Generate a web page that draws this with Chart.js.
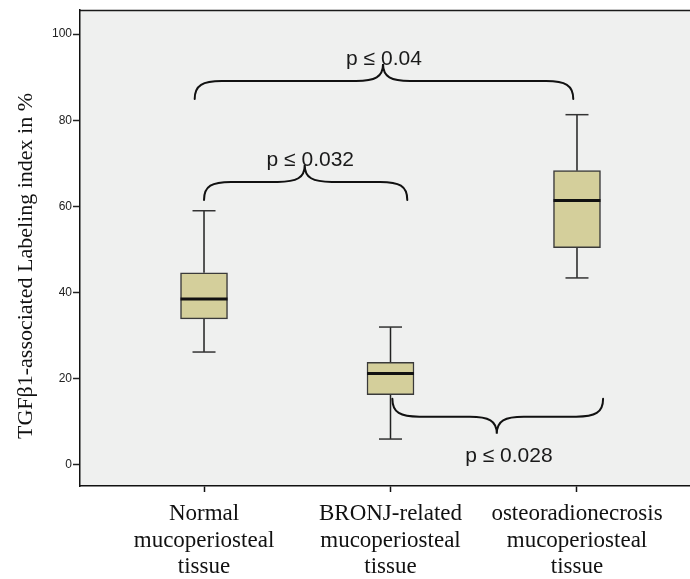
<!DOCTYPE html>
<html><head><meta charset="utf-8">
<script src="https://cdn.jsdelivr.net/npm/chart.js@4"></script>
<style>html,body{margin:0;padding:0;background:#fff;overflow:hidden;}</style>
</head><body>
<canvas id="c" width="690" height="579"></canvas>
<script>
// ---- data ----
const categories = [
  ['Normal', 'mucoperiosteal', 'tissue'],
  ['BRONJ-related', 'mucoperiosteal', 'tissue'],
  ['osteoradionecrosis', 'mucoperiosteal', 'tissue']
];
const xPositions = [1, 2, 3];
const whiskerLow  = [26.2, 6.0, 43.4];
const q1          = [33.9, 16.3, 50.4];
const median      = [38.5, 21.2, 61.4];
const q3          = [44.6, 23.8, 68.3];
const whiskerHigh = [59.0, 32.0, 81.3];
const yTicks = [0, 20, 40, 60, 80, 100];
const yTitle = 'TGFβ1-associated Labeling index in %';
// significance braces (x in category units, level in value units)
const braceLabels = ['p ≤ 0.04', 'p ≤ 0.032', 'p ≤ 0.028'];
const braceStart  = [0.95, 1.0, 2.01];
const braceEnd    = [2.98, 2.09, 3.14];
const braceTip    = [1.96, 1.54, 2.57];
const braceLevel  = [89.1, 65.7, 11.2];
const braceDir    = [1, 1, -1];
const braceLabelX = [1.965, 1.57, 2.635];

// ---- datasets built from arrays ----
const boxData = xPositions.map((x, i) => ({x: x, y: [q1[i], q3[i]]}));
const medianData = xPositions.map((x, i) => ({x: x, y: median[i]}));
const capData = [];
xPositions.forEach((x, i) => { capData.push({x: x, y: whiskerLow[i]}); capData.push({x: x, y: whiskerHigh[i]}); });
const whiskerData = [];
xPositions.forEach((x, i) => {
  whiskerData.push({x: x, y: whiskerLow[i]}, {x: x, y: q1[i]}, {x: x, y: null});
  whiskerData.push({x: x, y: q3[i]}, {x: x, y: whiskerHigh[i]}, {x: x, y: null});
});

const bgPlugin = {
  id: 'bg',
  beforeDraw(chart) {
    const {ctx, chartArea: a} = chart;
    ctx.save();
    ctx.fillStyle = '#eff0ef';
    ctx.fillRect(a.left, a.top, a.right - a.left, a.bottom - a.top);
    ctx.strokeStyle = '#1a1a1a';
    ctx.lineWidth = 1.5;
    ctx.beginPath();
    ctx.moveTo(a.left, a.top + 0.5);
    ctx.lineTo(a.right, a.top + 0.5);
    ctx.stroke();
    ctx.restore();
  }
};

const annotPlugin = {
  id: 'annot',
  afterDatasetsDraw(chart) {
    const {ctx} = chart;
    const xs = chart.scales.x, ys = chart.scales.y;
    ctx.save();
    ctx.strokeStyle = '#111';
    ctx.lineWidth = 2;
    ctx.lineCap = 'round';
    braceLabels.forEach((lab, i) => {
      const x1 = xs.getPixelForValue(braceStart[i]);
      const x2 = xs.getPixelForValue(braceEnd[i]);
      const xm = xs.getPixelForValue(braceTip[i]);
      const yH = ys.getPixelForValue(braceLevel[i]);
      const d = braceDir[i];
      const yEnd = yH + 18 * d;
      const yTip = yH - 17 * d;
      const r = 27;
      ctx.beginPath();
      ctx.moveTo(x1, yEnd);
      ctx.bezierCurveTo(x1, yH + 4 * d, x1 + 8, yH, x1 + r, yH);
      ctx.lineTo(xm - r, yH);
      ctx.bezierCurveTo(xm - 8, yH, xm, yH - 4 * d, xm, yTip);
      ctx.bezierCurveTo(xm, yH - 4 * d, xm + 8, yH, xm + r, yH);
      ctx.lineTo(x2 - r, yH);
      ctx.bezierCurveTo(x2 - 8, yH, x2, yH + 4 * d, x2, yEnd);
      ctx.stroke();
      ctx.fillStyle = '#1a1a1a';
      ctx.font = '21px "Liberation Sans", Arial, sans-serif';
      ctx.textAlign = 'center';
      ctx.textBaseline = 'alphabetic';
      const ly = d > 0 ? yTip + 1 : yTip + 28;
      ctx.fillText(lab, xs.getPixelForValue(braceLabelX[i]), ly);
    });
    // y axis title
    ctx.translate(26, 266);
    ctx.rotate(-Math.PI / 2);
    ctx.fillStyle = '#111';
    ctx.font = '22px "Liberation Serif", "Times New Roman", serif';
    ctx.textAlign = 'center';
    ctx.textBaseline = 'middle';
    ctx.fillText(yTitle, 0, 0);
    ctx.restore();
  }
};

function zeroPad(s) { s.paddingLeft = 0; s.paddingRight = 0; s.paddingTop = 0; s.paddingBottom = 0; }

new Chart(document.getElementById('c'), {
  type: 'bar',
  data: {
    datasets: [
      {
        type: 'line', data: whiskerData, borderColor: '#222', borderWidth: 1.5,
        pointRadius: 0, spanGaps: false, order: 3
      },
      {
        type: 'line', data: capData, showLine: false, pointStyle: 'line',
        pointRadius: 11.5, pointBorderWidth: 1.5, pointBorderColor: '#333', order: 2
      },
      {
        type: 'bar', data: boxData, backgroundColor: '#d4cf9b', borderColor: '#3a3a3a',
        borderWidth: 1.5, borderSkipped: false, barThickness: 47, order: 1
      },
      {
        type: 'line', data: medianData, showLine: false, pointStyle: 'line',
        pointRadius: 23.5, pointBorderWidth: 3, pointBorderColor: '#111', order: 0
      }
    ]
  },
  options: {
    responsive: false,
    animation: false,
    devicePixelRatio: 1,
    layout: {autoPadding: false, padding: {top: 10, right: 0, left: 0, bottom: 0}},
    plugins: {legend: {display: false}, tooltip: {enabled: false}},
    scales: {
      x: {
        type: 'linear', min: 0.335, max: 3.606, offset: false,
        afterBuildTicks: s => { s.ticks = xPositions.map(v => ({value: v})); },
        afterFit: s => { s.height = 93; zeroPad(s); },
        ticks: {
          callback: v => categories[v - 1],
          font: {family: '"Liberation Serif", "Times New Roman", serif', size: 23, lineHeight: 1.15},
          color: '#111', padding: 9, maxRotation: 0, autoSkip: false
        },
        grid: {drawOnChartArea: false, offset: false, tickLength: 6, tickColor: '#111', tickWidth: 1.5},
        border: {color: '#111', width: 1.5}
      },
      y: {
        type: 'linear', min: -4.9, max: 105.6,
        afterBuildTicks: s => { s.ticks = yTicks.map(v => ({value: v})); },
        afterFit: s => { s.width = 80; zeroPad(s); },
        ticks: {
          font: {family: '"Liberation Sans", Arial, sans-serif', size: 12},
          color: '#222', padding: 1
        },
        grid: {drawOnChartArea: false, tickLength: 7, tickColor: '#222', tickWidth: 1.5},
        border: {color: '#111', width: 1.5}
      }
    }
  },
  plugins: [bgPlugin, annotPlugin]
});
</script>
</body></html>
